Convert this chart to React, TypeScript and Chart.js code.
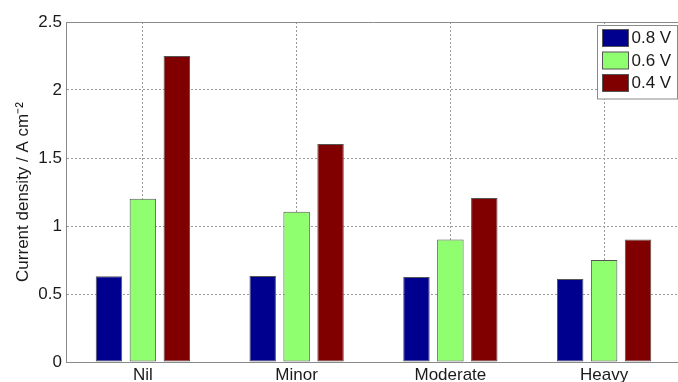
import React, { useEffect, useRef } from "react";
import { Chart, registerables } from "chart.js";

Chart.register(...registerables);

const categories = ["Nil", "Minor", "Moderate", "Heavy"];
const seriesLabels = ["0.8 V", "0.6 V", "0.4 V"];
const v08 = [0.63, 0.632, 0.625, 0.61];
const v06 = [1.2, 1.105, 0.9, 0.75];
const v04 = [2.25, 1.603, 1.205, 0.9];
const yTicks = [0, 0.5, 1, 1.5, 2, 2.5];
const yTickLabels = ["0", "0.5", "1", "1.5", "2", "2.5"];
const seriesColors = ["#00008F", "#8FFF70", "#800000"];
const yTitle = "Current density / A cm\u207B\u00B2";

const FONT = "'Liberation Sans', Arial, Helvetica, sans-serif";

const framePlugin = {
  id: "frameAndLegend",
  afterDraw(chart: any) {
    const { ctx, chartArea } = chart;
    ctx.save();
    ctx.strokeStyle = "#8a8a8a";
    ctx.lineWidth = 1;
    ctx.beginPath();
    ctx.moveTo(chartArea.left, chartArea.top + 0.5);
    ctx.lineTo(chartArea.right, chartArea.top + 0.5);
    ctx.moveTo(chartArea.right - 0.5, chartArea.top);
    ctx.lineTo(chartArea.right - 0.5, chartArea.bottom);
    ctx.stroke();

    // legend
    const ds = chart.data.datasets;
    const boxW = 80;
    const rowH = 22.5;
    const boxH = 8 + ds.length * rowH - 2;
    const bx = Math.round(chartArea.right - 4 - boxW) + 0.5;
    const by = Math.round(chartArea.top + 3) + 0.5;
    ctx.fillStyle = "#ffffff";
    ctx.fillRect(bx, by, boxW, boxH);
    ctx.strokeStyle = "#8a8a8a";
    ctx.strokeRect(bx, by, boxW, boxH);
    ctx.font = `17px ${FONT}`;
    ctx.textBaseline = "middle";
    ctx.textAlign = "left";
    ds.forEach((d: any, i: number) => {
      const sy = by + 4 + i * rowH;
      ctx.fillStyle = d.backgroundColor;
      ctx.fillRect(bx + 5, sy, 26, 17);
      ctx.strokeStyle = "#555";
      ctx.strokeRect(bx + 5, sy, 26, 17);
      ctx.fillStyle = "#1a1a1a";
      ctx.fillText(d.label, bx + 34, sy + 9);
    });
    ctx.restore();
  },
};

export default function App() {
  const ref = useRef<HTMLCanvasElement | null>(null);

  useEffect(() => {
    if (!ref.current) return;
    const values = [v08, v06, v04];
    const chart = new Chart(ref.current, {
      type: "bar",
      data: {
        labels: categories,
        datasets: seriesLabels.map((label, i) => ({
          label,
          data: values[i],
          backgroundColor: seriesColors[i],
          borderColor: "#555555",
          borderWidth: 1,
          borderSkipped: false,
          categoryPercentage: 0.662,
          barPercentage: 0.78,
        })),
      },
      options: {
        responsive: false,
        animation: false,
        devicePixelRatio: 1,
        layout: { padding: { left: 0, right: 9, top: 22, bottom: 0 } },
        plugins: {
          legend: { display: false },
          tooltip: { enabled: false },
        },
        scales: {
          x: {
            grid: {
              offset: false,
              color: "#9a9a9a",
              lineWidth: 1,
              drawTicks: false,
            },
            border: { color: "#8a8a8a", dash: [2, 2] },
            ticks: {
              color: "#1a1a1a",
              font: { family: FONT, size: 17 },
              padding: 3,
              maxRotation: 0,
            },
            afterFit: (s: any) => {
              s.height = 20;
            },
          },
          y: {
            min: 0,
            max: 2.5,
            grid: { color: "#9a9a9a", lineWidth: 1, drawTicks: false },
            border: { color: "#8a8a8a", dash: [2, 2] },
            ticks: {
              color: "#1a1a1a",
              font: { family: FONT, size: 17 },
              padding: 4,
              callback: (value: any) => {
                const idx = yTicks.indexOf(Number(value));
                return idx >= 0 ? yTickLabels[idx] : String(value);
              },
            },
            afterBuildTicks: (s: any) => {
              s.ticks = yTicks.map((v) => ({ value: v }));
            },
            afterFit: (s: any) => {
              s.width = 66;
            },
            title: {
              display: true,
              text: yTitle,
              color: "#1a1a1a",
              font: { family: FONT, size: 17 },
              padding: { top: 13, bottom: 0 },
            },
          },
        },
      },
      plugins: [framePlugin],
    });
    return () => chart.destroy();
  }, []);

  return (
    <div
      style={{
        position: "absolute",
        left: 0,
        top: 0,
        width: 678,
        height: 382,
        overflow: "hidden",
        background: "#fff",
      }}
    >
      <canvas ref={ref} width={690} height={382} style={{ display: "block" }} />
    </div>
  );
}
